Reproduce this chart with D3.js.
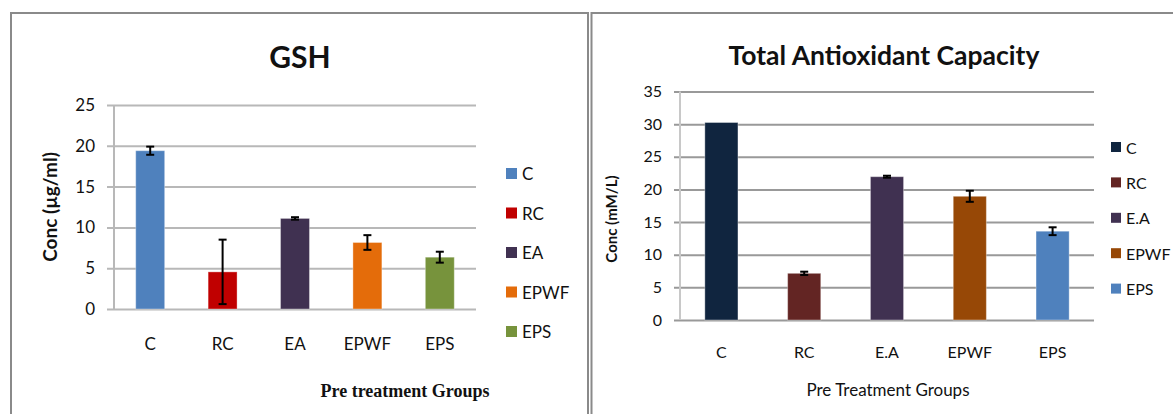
<!DOCTYPE html>
<html>
<head>
<meta charset="utf-8">
<script src="https://cdn.jsdelivr.net/npm/d3@7"></script>
<style>
  html, body { margin: 0; padding: 0; background: #fff; }
  svg { display: block; }
  text { font-family: Lato, "Open Sans", sans-serif; fill: #111; }
</style>
</head>
<body>
<svg id="chart" width="1173" height="414"></svg>
<script>
// ---------- DATA ----------
const gshCategories = ["C", "RC", "EA", "EPWF", "EPS"];
const gshValues = [19.4, 4.55, 11.1, 8.15, 6.35];
const gshErrors = [0.5, 3.95, 0.15, 0.9, 0.67];
const gshColors = ["#4F81BD", "#C00000", "#403151", "#E46C0A", "#77933C"];
const gshTicks = [0, 5, 10, 15, 20, 25];

const tacCategories = ["C", "RC", "E.A", "EPWF", "EPS"];
const tacValues = [30.25, 7.15, 21.95, 18.95, 13.6];
const tacErrors = [0, 0.25, 0.15, 0.85, 0.6];
const tacColors = ["#10253F", "#632523", "#403151", "#974806", "#4F81BD"];
const tacTicks = [0, 5, 10, 15, 20, 25, 30, 35];

const svg = d3.select("#chart");

// panel borders
svg.append("path").attr("d", "M11,414 V13 H588 V414")
  .attr("fill", "none").attr("stroke", "#8a8a8a").attr("stroke-width", 2);
svg.append("path").attr("d", "M591.5,414 V13 H1173")
  .attr("fill", "none").attr("stroke", "#8a8a8a").attr("stroke-width", 2);

function drawChart(cfg) {
  const g = svg.append("g");
  const x = d3.scaleBand().domain(cfg.categories).range([cfg.x0, cfg.x1]).paddingInner(0.6).paddingOuter(0.3);
  const y = d3.scaleLinear().domain([0, d3.max(cfg.ticks)]).range([cfg.y0, cfg.y1]);

  // gridlines + ticks
  const yAxis = d3.axisLeft(y).tickValues(cfg.ticks).tickSize(-(cfg.x1 - cfg.x0)).tickPadding(12 + cfg.tickOut).tickSizeOuter(0);
  const ya = g.append("g").attr("transform", `translate(${cfg.x0},0)`).call(yAxis);
  ya.select(".domain").remove();
  ya.selectAll(".tick line").attr("stroke", cfg.gridColor).attr("stroke-width", 2)
    .attr("x1", -cfg.tickOut);
  ya.selectAll(".tick text").style("font-family", "Lato, sans-serif").style("font-size", cfg.tickFont + "px").attr("fill", "#222");

  // vertical axis line
  g.append("line").attr("x1", cfg.x0).attr("x2", cfg.x0).attr("y1", y(d3.max(cfg.ticks))).attr("y2", cfg.y0)
    .attr("stroke", cfg.axisColor).attr("stroke-width", 2);

  // bars
  g.selectAll("rect.bar").data(cfg.values).enter().append("rect")
    .attr("class", "bar")
    .attr("x", (d, i) => x(cfg.categories[i]))
    .attr("y", d => y(d))
    .attr("width", x.bandwidth())
    .attr("height", d => cfg.y0 - y(d))
    .attr("fill", (d, i) => cfg.colors[i])
    .attr("stroke", "rgba(255,255,255,0.35)").attr("stroke-width", 1);

  // error bars
  const cap = 4;
  cfg.values.forEach((v, i) => {
    const e = cfg.errors[i];
    if (!e) return;
    const cx = x(cfg.categories[i]) + x.bandwidth() / 2;
    const eg = g.append("g").attr("stroke", "#000").attr("stroke-width", 2);
    eg.append("line").attr("x1", cx).attr("x2", cx).attr("y1", y(v + e)).attr("y2", y(v - e));
    eg.append("line").attr("x1", cx - cap).attr("x2", cx + cap).attr("y1", y(v + e)).attr("y2", y(v + e));
    eg.append("line").attr("x1", cx - cap).attr("x2", cx + cap).attr("y1", y(v - e)).attr("y2", y(v - e));
  });

  // x category labels
  g.selectAll("text.cat").data(cfg.categories).enter().append("text")
    .attr("class", "cat")
    .attr("x", d => x(d) + x.bandwidth() / 2)
    .attr("y", cfg.catY)
    .attr("text-anchor", "middle").attr("dominant-baseline", "central")
    .style("font-size", cfg.catFont + "px").attr("fill", "#222")
    .text(d => d);

  // title
  g.append("text").attr("x", cfg.titleX).attr("y", cfg.titleY)
    .attr("text-anchor", "middle").attr("dominant-baseline", "central")
    .style("font-size", cfg.titleFont + "px").style("font-weight", "bold").attr("fill", "#000")
    .text(cfg.title);

  // y title
  g.append("text").attr("transform", `translate(${cfg.yTitleX},${cfg.yTitleY}) rotate(-90)`)
    .attr("text-anchor", "middle").attr("dominant-baseline", "central")
    .style("font-size", cfg.yTitleFont + "px").style("font-weight", "bold").attr("fill", "#000")
    .text(cfg.yTitle);

  // x title
  g.append("text").attr("x", cfg.xTitleX).attr("y", cfg.xTitleY)
    .attr("text-anchor", "middle").attr("dominant-baseline", "central")
    .style("font-size", cfg.xTitleFont + "px")
    .style("font-family", cfg.xTitleFamily)
    .style("font-weight", cfg.xTitleWeight).attr("fill", "#000")
    .text(cfg.xTitle);

  // legend
  const lg = g.selectAll("g.leg").data(cfg.categories).enter().append("g")
    .attr("transform", (d, i) => `translate(${cfg.legX},${cfg.legY + i * cfg.legStep})`);
  lg.append("rect").attr("x", 0).attr("y", -cfg.legSize / 2).attr("width", cfg.legSize).attr("height", cfg.legSize)
    .attr("fill", (d, i) => cfg.colors[i]);
  lg.append("text").attr("x", cfg.legSize + 5).attr("y", 0).attr("dominant-baseline", "central")
    .style("font-size", cfg.legFont + "px").attr("fill", "#222").text(d => d);
}

drawChart({
  categories: gshCategories, values: gshValues, errors: gshErrors, colors: gshColors, ticks: gshTicks,
  x0: 114, x1: 476, y0: 309, y1: 105, tickOut: 7, tickFont: 17,
  gridColor: "#b8b8b8", axisColor: "#b8b8b8",
  catY: 343, catFont: 17,
  title: "GSH", titleX: 300, titleY: 56, titleFont: 30,
  yTitle: "Conc (µg/ml)", yTitleX: 49, yTitleY: 207, yTitleFont: 19,
  xTitle: "Pre treatment Groups", xTitleX: 405, xTitleY: 391, xTitleFont: 18,
  xTitleFamily: "'Liberation Serif', 'DejaVu Serif', serif", xTitleWeight: "bold",
  legX: 506, legY: 173.5, legStep: 39.5, legSize: 11, legFont: 17
});

drawChart({
  categories: tacCategories, values: tacValues, errors: tacErrors, colors: tacColors, ticks: tacTicks,
  x0: 680, x1: 1094, y0: 320, y1: 91.5, tickOut: 6, tickFont: 16,
  gridColor: "#999999", axisColor: "#c8c8c8",
  catY: 351, catFont: 16,
  title: "Total Antioxidant Capacity", titleX: 884, titleY: 55, titleFont: 26.5,
  yTitle: "Conc (mM/L)", yTitleX: 611, yTitleY: 219, yTitleFont: 15,
  xTitle: "Pre Treatment Groups", xTitleX: 888, xTitleY: 389, xTitleFont: 17,
  xTitleFamily: "Lato, sans-serif", xTitleWeight: "normal",
  legX: 1111, legY: 147, legStep: 35.4, legSize: 10, legFont: 16
});
</script>
</body>
</html>
